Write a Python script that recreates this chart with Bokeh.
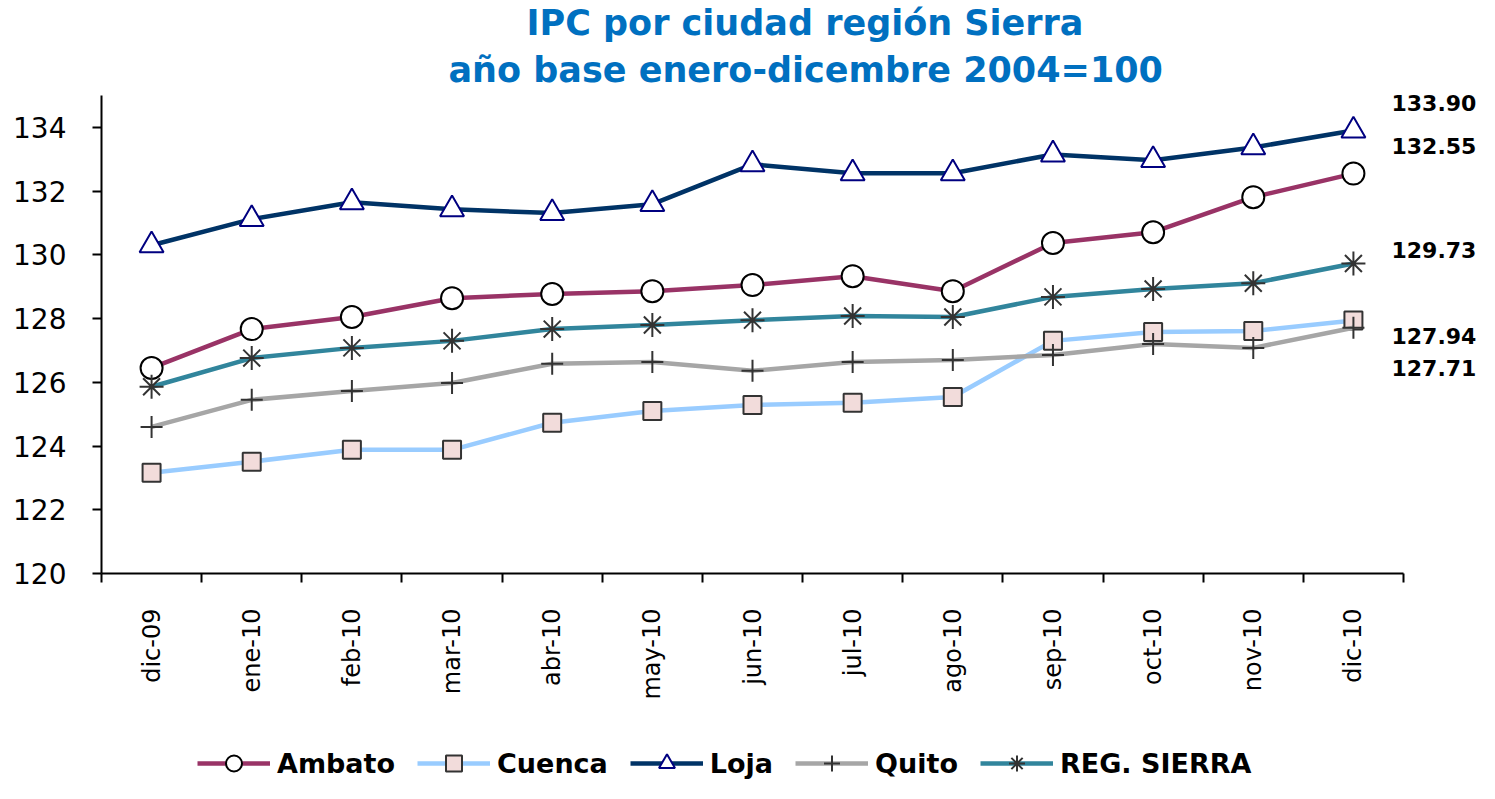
from bokeh.plotting import figure
from bokeh.models import Range1d, FixedTicker, Legend, LegendItem, Title, LinearAxis
from bokeh.layouts import column
from bokeh.embed import file_html
from bokeh.resources import INLINE

months = ["dic-09", "ene-10", "feb-10", "mar-10", "abr-10", "may-10", "jun-10",
          "jul-10", "ago-10", "sep-10", "oct-10", "nov-10", "dic-10"]
ambato = [126.45, 127.67, 128.05, 128.64, 128.77, 128.86, 129.05, 129.33, 128.86, 130.37, 130.71, 131.81, 132.55]
cuenca = [123.16, 123.51, 123.88, 123.88, 124.73, 125.10, 125.29, 125.36, 125.54, 127.30, 127.58, 127.61, 127.94]
loja = [130.30, 131.12, 131.65, 131.43, 131.31, 131.59, 132.84, 132.56, 132.56, 133.15, 132.97, 133.37, 133.90]
quito = [124.60, 125.45, 125.73, 125.98, 126.58, 126.64, 126.36, 126.64, 126.70, 126.86, 127.20, 127.08, 127.71]
sierra = [125.86, 126.76, 127.08, 127.30, 127.67, 127.80, 127.95, 128.08, 128.05, 128.68, 128.93, 129.11, 129.73]
y_ticks = [120, 122, 124, 126, 128, 130, 132, 134]

FONT = "DejaVu Sans"
x = list(range(len(months)))
n = len(months)

p = figure(width=1479, height=703, x_range=Range1d(-0.5, n - 0.5), y_range=Range1d(120, 135),
           output_backend="svg", toolbar_location=None, title=None,
           min_border_left=101, min_border_right=74, min_border_top=95, min_border_bottom=130)
p.outline_line_color = None
p.xgrid.visible = False
p.ygrid.visible = False

p.add_layout(Title(text="año base enero-dicembre 2004=100", align="left", offset=347,
                   text_font=FONT, text_font_size="35px", text_font_style="bold",
                   text_color="#0070C0", standoff=11), "above")
p.add_layout(Title(text="IPC por ciudad región Sierra", align="left", offset=425,
                   text_font=FONT, text_font_size="35px", text_font_style="bold",
                   text_color="#0070C0", standoff=0), "above")

# axes
xa = p.xaxis[0]
xa.ticker = FixedTicker(ticks=x, minor_ticks=[i - 0.5 for i in range(n + 1)])
xa.major_label_overrides = {i: m for i, m in enumerate(months)}
xa.major_label_orientation = 3.14159265 / 2
xa.major_tick_out = 0
xa.major_tick_in = 0
xa.minor_tick_out = 9
xa.minor_tick_in = 0
xa.minor_tick_line_color = "black"
xa.minor_tick_line_width = 2
xa.axis_line_width = 2
xa.major_label_standoff = 26
xa.major_label_text_font = FONT
xa.major_label_text_font_size = "24px"
xa.major_label_text_color = "black"

ya = p.yaxis[0]
ya.ticker = FixedTicker(ticks=y_ticks, minor_ticks=[])
ya.major_tick_out = 9
ya.major_tick_in = 0
ya.major_tick_line_width = 2
ya.axis_line_width = 2
ya.major_label_standoff = 26
ya.major_label_text_font = FONT
ya.major_label_text_font_size = "28px"
ya.major_label_text_color = "black"

series = [
    ("Ambato", ambato, "#993366", "circle", 22, "white", "black"),
    ("Cuenca", cuenca, "#99CCFF", "square", 18, "#F2DCDB", "#333333"),
    ("Loja", loja, "#003366", "triangle", 24, "white", "#000080"),
    ("Quito", quito, "#A6A6A6", "cross", 22, None, "#333333"),
    ("REG. SIERRA", sierra, "#31859C", "asterisk", 24, None, "#333333"),
]

for name, vals, col, mk, sz, fill, mline in series:
    p.line(x, vals, line_color=col, line_width=4.5)
    p.scatter(x, vals, marker=mk, size=sz, fill_color=fill, line_color=mline, line_width=2)

# end-value labels, shown on a right-hand axis beside the last month
label_y = [134.75, 133.40, 130.15, 127.45, 126.45]
end_vals = [loja[-1], ambato[-1], sierra[-1], cuenca[-1], quito[-1]]
ra = LinearAxis(ticker=FixedTicker(ticks=label_y, minor_ticks=[]),
                major_label_overrides={ly: f"{v:.2f}" for ly, v in zip(label_y, end_vals)},
                axis_line_color=None, major_tick_line_color=None, major_tick_out=0, major_tick_in=0,
                major_label_standoff=-12, major_label_text_font=FONT, major_label_text_font_style="bold",
                major_label_text_font_size="22px", major_label_text_color="black")
p.add_layout(ra, "right")

# legend strip below the chart (its renderers sit outside the strip's visible range)
lg = figure(width=1479, height=80, x_range=Range1d(100, 101), y_range=Range1d(0, 1),
            output_backend="svg", toolbar_location=None, title=None,
            x_axis_location=None, y_axis_location=None, min_border=0)
lg.outline_line_color = None
lg.xgrid.visible = False
lg.ygrid.visible = False
items = []
for name, vals, col, mk, sz, fill, mline in series:
    lr = lg.line(x, vals, line_color=col, line_width=4.5)
    mr = lg.scatter(x, vals, marker=mk, size=sz, fill_color=fill, line_color=mline, line_width=2)
    items.append(LegendItem(label=name, renderers=[lr, mr]))
legend = Legend(items=items, location=(96, 0), orientation="horizontal",
                glyph_width=73, glyph_height=40, label_standoff=7, spacing=22,
                padding=0, margin=0, border_line_color=None, background_fill_alpha=0,
                label_text_font=FONT, label_text_font_style="bold", label_text_font_size="27px",
                label_text_color="black")
lg.add_layout(legend, "center")

open("out.html", "w").write(file_html(column(p, lg, spacing=0), INLINE))
